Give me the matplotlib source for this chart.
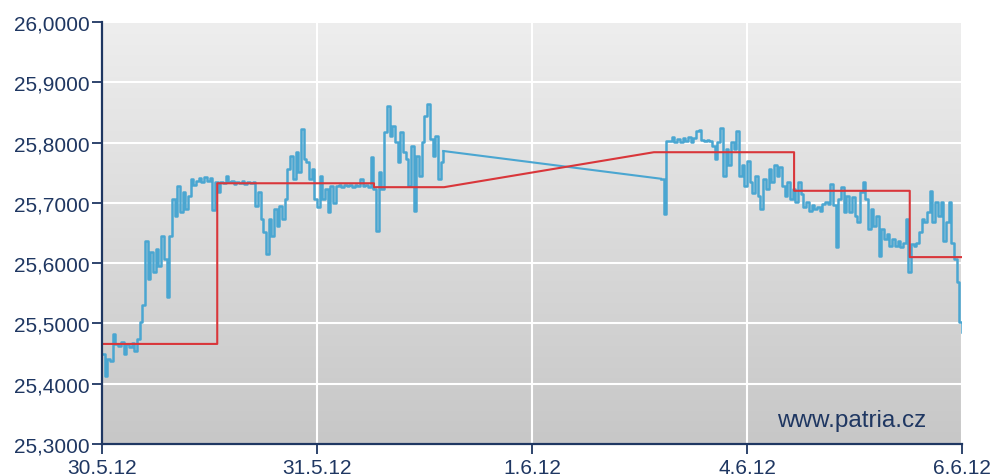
import numpy as np
import matplotlib
matplotlib.use('Agg')
import matplotlib.pyplot as plt
from matplotlib.colors import LinearSegmentedColormap

# x axis: trading days, 0 = 30.5.12 ... 4 = 6.6.12
x_ticks = [0, 1, 2, 3, 4]
x_tick_labels = ['30.5.12', '31.5.12', '1.6.12', '4.6.12', '6.6.12']
y_ticks = [25.3, 25.4, 25.5, 25.6, 25.7, 25.8, 25.9, 26.0]
y_tick_labels = ['25,3000', '25,4000', '25,5000', '25,6000', '25,7000', '25,8000', '25,9000', '26,0000']

# intraday quotes, first block (30.5. - 31.5.), sampled every 0.0125 day
quotes_a = [
    25.450, 25.412, 25.441, 25.438, 25.482, 25.466, 25.462, 25.470, 25.449, 25.466, 25.461, 25.468, 25.455, 25.475,
    25.502, 25.530, 25.637, 25.574, 25.618, 25.585, 25.623, 25.595, 25.645, 25.607, 25.544, 25.645, 25.706, 25.678,
    25.728, 25.685, 25.718, 25.690, 25.712, 25.740, 25.730, 25.737, 25.741, 25.735, 25.743, 25.737, 25.741, 25.688,
    25.735, 25.718, 25.734, 25.733, 25.745, 25.734, 25.736, 25.732, 25.735, 25.733, 25.736, 25.732, 25.735, 25.733,
    25.734, 25.695, 25.718, 25.673, 25.652, 25.615, 25.673, 25.645, 25.690, 25.662, 25.695, 25.673, 25.706, 25.756,
    25.778, 25.740, 25.784, 25.751, 25.822, 25.773, 25.768, 25.740, 25.756, 25.706, 25.693, 25.745, 25.706, 25.723,
    25.685, 25.728, 25.700, 25.728, 25.730, 25.727, 25.729, 25.728, 25.730, 25.727, 25.729, 25.728, 25.740, 25.728,
    25.729, 25.727, 25.776, 25.723, 25.653, 25.751, 25.723, 25.817, 25.861, 25.811, 25.828, 25.801, 25.768, 25.817,
    25.784, 25.773, 25.728, 25.794, 25.686, 25.778, 25.745, 25.801, 25.844, 25.864, 25.806, 25.778, 25.811, 25.740,
    25.768, 25.786,
]
# second block (4.6. - 6.6.)
quotes_b = [
    25.740, 25.681, 25.803, 25.803, 25.809, 25.801, 25.806, 25.801, 25.807, 25.802, 25.809, 25.801, 25.807, 25.820,
    25.821, 25.805, 25.803, 25.805, 25.802, 25.795, 25.773, 25.801, 25.825, 25.745, 25.790, 25.762, 25.801, 25.790,
    25.820, 25.745, 25.762, 25.728, 25.770, 25.734, 25.717, 25.745, 25.712, 25.690, 25.740, 25.723, 25.756, 25.734,
    25.762, 25.745, 25.759, 25.728, 25.712, 25.734, 25.706, 25.723, 25.701, 25.735, 25.715, 25.693, 25.701, 25.687,
    25.696, 25.690, 25.693, 25.687, 25.698, 25.701, 25.698, 25.731, 25.696, 25.626, 25.706, 25.726, 25.685, 25.712,
    25.685, 25.709, 25.679, 25.668, 25.718, 25.735, 25.706, 25.657, 25.690, 25.662, 25.679, 25.612, 25.657, 25.640,
    25.648, 25.629, 25.640, 25.629, 25.637, 25.626, 25.634, 25.673, 25.585, 25.632, 25.629, 25.634, 25.652, 25.673,
    25.668, 25.685, 25.720, 25.668, 25.701, 25.679, 25.701, 25.637, 25.668, 25.701, 25.634, 25.607, 25.569, 25.502,
    25.486,
]
block_a_start, block_a_end = 0.0, 1.5875
block_b_start, block_b_end = 2.6, 4.0

# daily fixing (red step line)
fix_t = [0.0, 0.536, 0.536, 1.265, 1.265, 1.591, 2.567, 3.219, 3.219, 3.757, 3.757, 4.0]
fix_v = [25.466, 25.466, 25.7325, 25.7325, 25.726, 25.726, 25.784, 25.784, 25.72, 25.72, 25.61, 25.61]

navy = '#1f3762'
blue = '#4aa6d1'
red = '#d9363a'

plt.rcParams['font.family'] = ['Liberation Sans', 'DejaVu Sans']

fig = plt.figure(figsize=(9.94, 4.77), dpi=100)
ax = fig.add_axes([102 / 994, 32 / 477, 860 / 994, 422 / 477])

# gray gradient background
cmap = LinearSegmentedColormap.from_list('bg', ['#c7c7c7', '#eeeeee'])
grad = np.linspace(0, 1, 256).reshape(-1, 1)
ax.imshow(grad, cmap=cmap, aspect='auto', origin='lower',
          extent=[0, 4, 25.3, 26.0], zorder=0)

t_a = np.linspace(block_a_start, block_a_end, len(quotes_a))
t_b = np.linspace(block_b_start, block_b_end, len(quotes_b))
ax.plot(t_a, quotes_a, color=blue, lw=1.8, drawstyle='steps-post', zorder=3)
ax.plot(t_b, quotes_b, color=blue, lw=1.8, drawstyle='steps-post', zorder=3)
# no trading in between -> straight connector
ax.plot([t_a[-1], t_b[0]], [quotes_a[-1], quotes_b[0]], color=blue, lw=1.5, zorder=3)
ax.plot(fix_t, fix_v, color=red, lw=1.5, zorder=4)

ax.set_xlim(0, 4)
ax.set_ylim(25.3, 26.0)
ax.set_xticks(x_ticks)
ax.set_xticklabels(x_tick_labels)
ax.set_yticks(y_ticks)
ax.set_yticklabels(y_tick_labels)
ax.grid(True, color='white', lw=1.5, zorder=1)
ax.set_axisbelow(False)

for side in ['top', 'right']:
    ax.spines[side].set_visible(False)
for side in ['left', 'bottom']:
    ax.spines[side].set_color(navy)
    ax.spines[side].set_linewidth(1.6)
    ax.spines[side].set_zorder(5)

ax.tick_params(axis='both', colors=navy, labelsize=15, length=7, width=1.3, direction='out')
ax.tick_params(axis='x', pad=3)
ax.tick_params(axis='y', pad=2)

ax.text(0.872, 0.057, 'www.patria.cz', transform=ax.transAxes, ha='center', va='center',
        fontsize=17.5, color=navy, zorder=6)

fig.savefig('out.png', dpi=100)
